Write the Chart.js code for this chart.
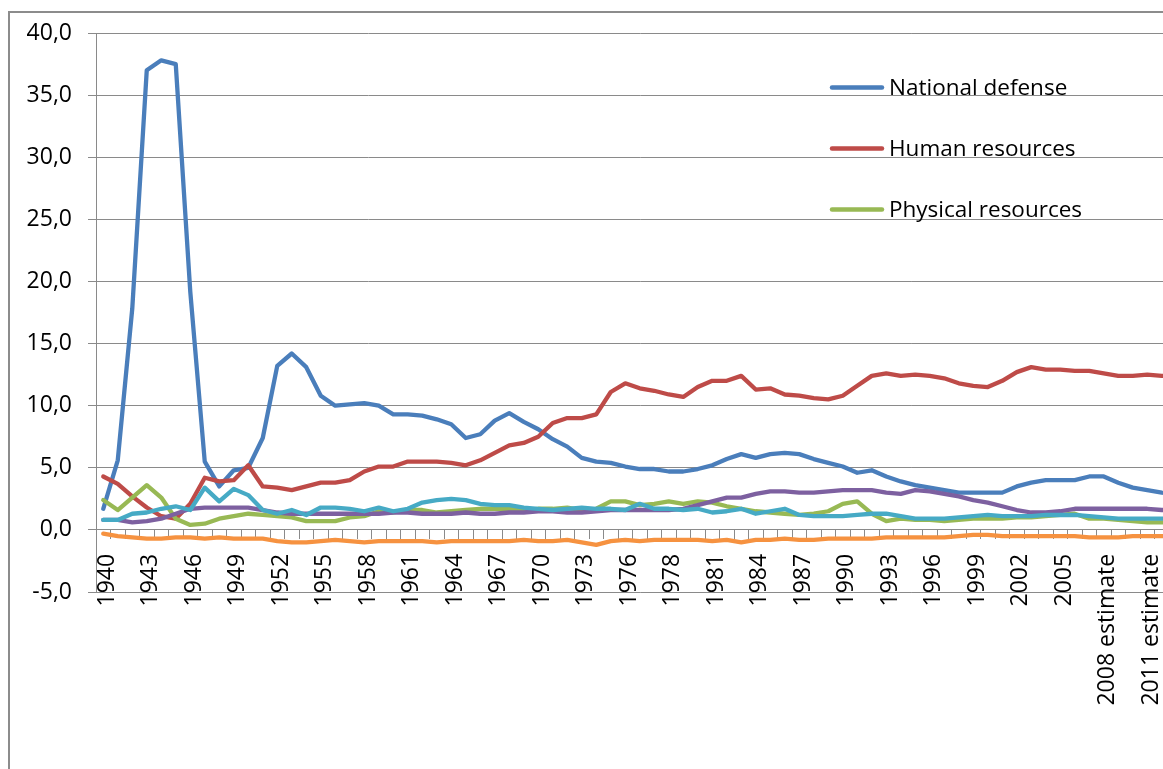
<!DOCTYPE html>
<html><head><meta charset="utf-8">
<script src="https://cdn.jsdelivr.net/npm/chart.js@4.4.1/dist/chart.umd.min.js"></script>
<style>
html,body{margin:0;padding:0;background:#fff;overflow:hidden;width:1163px;height:769px}
#wrap{position:absolute;left:0;top:0;width:1240px;height:800px}
</style></head><body><div id="wrap"><canvas id="c" width="1240" height="800"></canvas></div>
<script>
const categories = ['1940','1941','1942','1943','1944','1945','1946','1947','1948','1949',
 '1950','1951','1952','1953','1954','1955','1956','1957','1958','1959',
 '1960','1961','1962','1963','1964','1965','1966','1967','1968','1969',
 '1970','1971','1972','1973','1974','1975','1976','TQ','1977','1978','1979',
 '1980','1981','1982','1983','1984','1985','1986','1987','1988','1989',
 '1990','1991','1992','1993','1994','1995','1996','1997','1998','1999',
 '2000','2001','2002','2003','2004','2005','2006','2007',
 '2008 estimate','2009 estimate','2010 estimate','2011 estimate','2012 estimate','2013 estimate'];

const nationalDefense = [1.7,5.6,17.8,37.0,37.8,37.5,19.2,5.5,3.5,4.8,
 5.0,7.4,13.2,14.2,13.1,10.8,10.0,10.1,10.2,10.0,
 9.3,9.3,9.2,8.9,8.5,7.4,7.7,8.8,9.4,8.7,
 8.1,7.3,6.7,5.8,5.5,5.4,5.1,4.9,4.9,4.7,4.7,
 4.9,5.2,5.7,6.1,5.8,6.1,6.2,6.1,5.7,5.4,
 5.1,4.6,4.8,4.3,3.9,3.6,3.4,3.2,3.0,3.0,
 3.0,3.0,3.5,3.8,4.0,4.0,4.0,4.3,
 4.3,3.8,3.4,3.2,3.0,2.9];

const humanResources = [4.3,3.7,2.7,1.8,1.1,0.9,2.1,4.2,3.9,4.0,
 5.2,3.5,3.4,3.2,3.5,3.8,3.8,4.0,4.7,5.1,
 5.1,5.5,5.5,5.5,5.4,5.2,5.6,6.2,6.8,7.0,
 7.5,8.6,9.0,9.0,9.3,11.1,11.8,11.4,11.2,10.9,10.7,
 11.5,12.0,12.0,12.4,11.3,11.4,10.9,10.8,10.6,10.5,
 10.8,11.6,12.4,12.6,12.4,12.5,12.4,12.2,11.8,11.6,
 11.5,12.0,12.7,13.1,12.9,12.9,12.8,12.8,
 12.6,12.4,12.4,12.5,12.4,12.4];

const physicalResources = [2.4,1.6,2.6,3.6,2.6,0.9,0.4,0.5,0.9,1.1,
 1.3,1.2,1.1,1.0,0.7,0.7,0.7,1.0,1.1,1.5,
 1.4,1.6,1.6,1.4,1.5,1.6,1.7,1.7,1.7,1.6,
 1.7,1.7,1.8,1.6,1.7,2.3,2.3,2.0,2.1,2.3,2.1,
 2.3,2.2,1.9,1.7,1.5,1.4,1.3,1.2,1.3,1.5,
 2.1,2.3,1.3,0.7,0.9,0.8,0.8,0.7,0.8,0.9,
 0.9,0.9,1.0,1.0,1.1,1.2,1.3,0.9,
 0.9,0.8,0.7,0.6,0.6,0.6];

const netInterest = [0.8,0.8,0.6,0.7,0.9,1.3,1.7,1.8,1.8,1.8,
 1.8,1.6,1.4,1.3,1.3,1.3,1.3,1.3,1.3,1.3,
 1.4,1.4,1.3,1.3,1.3,1.4,1.3,1.3,1.4,1.4,
 1.5,1.5,1.4,1.4,1.5,1.6,1.6,1.6,1.6,1.6,1.7,
 2.0,2.3,2.6,2.6,2.9,3.1,3.1,3.0,3.0,3.1,
 3.2,3.2,3.2,3.0,2.9,3.2,3.1,2.9,2.7,2.4,
 2.2,1.9,1.6,1.4,1.4,1.5,1.7,1.7,
 1.7,1.7,1.7,1.7,1.6,1.6];

const otherFunctions = [0.8,0.8,1.3,1.4,1.7,1.9,1.6,3.4,2.3,3.3,
 2.8,1.6,1.3,1.6,1.2,1.8,1.8,1.7,1.5,1.8,
 1.5,1.7,2.2,2.4,2.5,2.4,2.1,2.0,2.0,1.8,
 1.7,1.6,1.7,1.8,1.7,1.7,1.6,2.1,1.7,1.7,1.6,
 1.7,1.4,1.5,1.7,1.3,1.5,1.7,1.2,1.1,1.1,
 1.1,1.2,1.3,1.3,1.1,0.9,0.9,0.9,1.0,1.1,
 1.2,1.1,1.1,1.1,1.2,1.2,1.2,1.1,
 1.0,0.9,0.9,0.9,0.9,0.9];

const offsettingReceipts = [-0.3,-0.5,-0.6,-0.7,-0.7,-0.6,-0.6,-0.7,-0.6,-0.7,
 -0.7,-0.7,-0.9,-1.0,-1.0,-0.9,-0.8,-0.9,-1.0,-0.9,
 -0.9,-0.9,-0.9,-1.0,-0.9,-0.9,-0.9,-0.9,-0.9,-0.8,
 -0.9,-0.9,-0.8,-1.0,-1.2,-0.9,-0.8,-0.9,-0.8,-0.8,-0.8,
 -0.8,-0.9,-0.8,-1.0,-0.8,-0.8,-0.7,-0.8,-0.8,-0.7,
 -0.7,-0.7,-0.7,-0.6,-0.6,-0.6,-0.6,-0.6,-0.5,-0.4,
 -0.4,-0.5,-0.5,-0.5,-0.5,-0.5,-0.5,-0.6,
 -0.6,-0.6,-0.5,-0.5,-0.5,-0.5];

const seriesNames = ['National defense','Human resources','Physical resources',
 'Net interest','Other functions','Undistributed offsetting receipts'];
const seriesValues = [nationalDefense, humanResources, physicalResources,
 netInterest, otherFunctions, offsettingReceipts];
const seriesColors = ['#4A7EBB','#BE4B48','#98B954','#7D60A0','#46AAC5','#F69240'];
const legendCount = 3;
const yMin = -5, yMax = 40, yStep = 5;

const GRID = '#8a8a8a';
const FONT = 'Open Sans';

const framePlugin = {
  id: 'frame',
  beforeDraw(chart) {
    const ctx = chart.ctx;
    ctx.save();
    ctx.fillStyle = '#fff';
    ctx.fillRect(0, 0, chart.width, chart.height);
    ctx.strokeStyle = '#8c8c8c';
    ctx.lineWidth = 2;
    ctx.strokeRect(9, 12, chart.width + 20, chart.height + 20);
    ctx.restore();
  }
};

const legendPlugin = {
  id: 'xlLegend',
  afterDatasetsDraw(chart) {
    const ctx = chart.ctx;
    ctx.save();
    const x0 = 832, x1 = 882, tx = 889;
    const rowY = [87.5, 148.5, 209.5];
    for (let k = 0; k < legendCount; k++) {
      const ds = chart.data.datasets[k];
      ctx.strokeStyle = ds.borderColor;
      ctx.lineWidth = 4.5;
      ctx.lineCap = 'round';
      ctx.beginPath();
      ctx.moveTo(x0, rowY[k]);
      ctx.lineTo(x1, rowY[k]);
      ctx.stroke();
      ctx.fillStyle = '#000';
      ctx.font = '22.5px "' + FONT + '"';
      ctx.textBaseline = 'alphabetic';
      ctx.textAlign = 'left';
      ctx.fillText(ds.label, tx, rowY[k] + 7.5);
    }
    ctx.restore();
  }
};

const W = 1240, H = 800;
new Chart(document.getElementById('c'), {
  type: 'line',
  data: {
    labels: categories,
    datasets: seriesValues.map((vals, i) => ({
      label: seriesNames[i],
      data: vals,
      borderColor: seriesColors[i],
      backgroundColor: seriesColors[i],
      borderWidth: 4.3,
      pointRadius: 0,
      tension: 0,
      fill: false,
      borderJoinStyle: 'round',
      borderCapStyle: 'round',
      order: seriesNames.length - i
    }))
  },
  options: {
    responsive: false,
    animation: false,
    devicePixelRatio: 1,
    layout: { padding: { left: 0, top: 33, right: W - 1183.5, bottom: H - 592 } },
    plugins: { legend: { display: false }, tooltip: { enabled: false } },
    scales: {
      x: {
        type: 'category',
        position: { y: 0 },
        offset: true,
        grid: { display: true, drawOnChartArea: false, drawTicks: true, tickLength: 9, color: GRID, offset: true },
        border: { display: true, color: GRID, width: 1 },
        ticks: {
          autoSkip: false, minRotation: 90, maxRotation: 90, padding: 15, labelOffset: 4,
          color: '#000', font: { family: FONT, size: 23 },
          callback: (v, i) => (i % 3 === 0 ? categories[i] : '')
        },
        afterFit(s) { s.height = 0; }
      },
      y: {
        min: yMin, max: yMax,
        ticks: { stepSize: yStep, padding: 16, color: '#000', font: { family: FONT, size: 23 },
          callback: v => Number(v).toFixed(1).replace('.', ',') },
        grid: { color: GRID, tickLength: 8, lineWidth: 1 },
        border: { color: GRID, width: 1 },
        afterFit(s) { s.width = 96; }
      }
    }
  },
  plugins: [framePlugin, legendPlugin]
});
</script></body></html>
